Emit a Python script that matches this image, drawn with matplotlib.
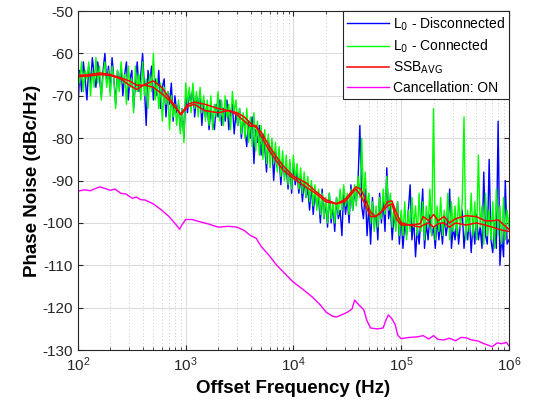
import numpy as np
import matplotlib
matplotlib.use("Agg")
import matplotlib.pyplot as plt

plt.rcParams['font.family'] = ['Liberation Sans', 'DejaVu Sans']
plt.rcParams['axes.unicode_minus'] = False

# noisy traces sampled on a log grid, 60 points per decade (100 Hz .. 1 MHz)
noise_freq = np.logspace(2, 6, 241)

disconnected = [
    # 1e2 .. 1e3
    -73, -64, -69, -62, -66, -71, -63, -67, -61, -65,
    -68, -62, -66, -70, -64, -60, -67, -63, -69, -61,
    -66, -72, -64, -68, -63, -70, -65, -62, -71, -66,
    -64, -73, -67, -62, -69, -65, -60, -68, -77, -64,
    -67, -63, -71, -66, -70, -64, -73, -68, -66, -75,
    -69, -72, -67, -76, -70, -74, -72, -78, -73, -80,
    # 1e3 .. 1e4
    -70, -74, -69, -72, -68, -75, -70, -73, -69, -77,
    -71, -75, -72, -78, -73, -76, -78, -72, -75, -71,
    -77, -73, -76, -71, -78, -74, -72, -79, -74, -77,
    -73, -80, -75, -78, -82, -76, -80, -75, -86, -78,
    -81, -77, -84, -79, -82, -88, -80, -85, -81, -90,
    -83, -87, -84, -91, -85, -89, -87, -92, -86, -93,
    # 1e4 .. 1e5
    -86, -91, -88, -93, -89, -95, -90, -94, -92, -97,
    -91, -98, -93, -96, -94, -100, -92, -99, -95, -101,
    -93, -100, -96, -102, -94, -99, -97, -103, -92, -98,
    -94, -100, -91, -97, -93, -95, -90, -77, -96, -99,
    -92, -103, -96, -105, -94, -101, -97, -104, -93, -100,
    -95, -102, -87, -99, -96, -104, -98, -101, -95, -105,
    # 1e5 .. 1e6
    -98, -106, -100, -103, -97, -91, -104, -99, -108, -101,
    -105, -99, -92, -106, -100, -104, -98, -103, -101, -106,
    -99, -104, -100, -105, -98, -103, -100, -92, -106, -101,
    -104, -99, -105, -100, -97, -106, -101, -104, -99, -107,
    -100, -105, -98, -104, -101, -106, -88, -103, -105, -85,
    -104, -107, -100, -106, -76, -110, -103, -108, -90, -105,
    -104,
]

connected = [
    # 1e2 .. 1e3
    -63, -67, -62, -69, -64, -66, -62, -70, -64, -68,
    -61, -67, -63, -71, -65, -62, -68, -64, -70, -63,
    -66, -73, -64, -69, -62, -67, -65, -72, -63, -68,
    -66, -74, -63, -69, -65, -71, -62, -70, -66, -73,
    -65, -69, -60, -71, -66, -73, -67, -76, -68, -72,
    -69, -78, -70, -75, -72, -77, -71, -79, -73, -81,
    # 1e3 .. 1e4
    -67, -72, -68, -74, -67, -73, -69, -75, -68, -74,
    -70, -76, -71, -77, -70, -78, -72, -75, -69, -76,
    -71, -77, -70, -75, -72, -78, -69, -74, -71, -77,
    -73, -79, -74, -80, -73, -81, -75, -82, -74, -83,
    -76, -84, -77, -85, -78, -86, -79, -87, -80, -86,
    -81, -88, -82, -89, -83, -90, -84, -91, -85, -92,
    # 1e4 .. 1e5
    -84, -90, -86, -92, -87, -93, -88, -94, -89, -95,
    -90, -96, -91, -97, -92, -98, -93, -99, -94, -100,
    -93, -99, -95, -100, -94, -98, -92, -97, -91, -96,
    -93, -98, -92, -97, -91, -96, -89, -94, -80, -95,
    -88, -97, -93, -100, -95, -102, -96, -101, -94, -99,
    -92, -98, -89, -97, -93, -101, -96, -102, -95, -103,
    # 1e5 .. 1e6
    -97, -103, -95, -104, -97, -102, -94, -101, -96, -103,
    -93, -102, -95, -104, -96, -101, -92, -103, -73, -104,
    -96, -102, -94, -103, -97, -101, -93, -104, -95, -102,
    -96, -103, -94, -101, -95, -75, -104, -97, -102, -93,
    -103, -95, -104, -84, -101, -96, -105, -93, -103, -97,
    -104, -95, -106, -92, -103, -96, -105, -94, -104, -97,
    -101,
]

# averaged SSB curves
ssb_freq = [100, 130, 160, 200, 250, 300, 350, 420, 500, 600, 700, 800, 900, 950,
            1050, 1200, 1500, 2000, 2500, 3000, 3500, 4000, 4500, 5000, 6000, 7000,
            8000, 10000, 13000, 16000, 20000, 25000, 30000, 35000, 38000, 42000,
            46000, 52000, 58000, 65000, 75000, 82000, 90000, 100000, 120000, 150000,
            160000, 180000, 200000, 220000, 250000, 280000, 320000, 400000, 500000,
            600000, 700000, 800000, 900000, 1000000]
ssb_a = [-65.2, -65.0, -64.6, -65.0, -65.8, -66.5, -67.5, -67.5, -68.0, -69.5, -71.0,
         -72.8, -74.3, -73.5, -72.0, -71.5, -72.0, -73.0, -73.5, -74.0, -75.0, -76.5,
         -77.5, -78.5, -82.0, -84.5, -86.5, -89.0, -90.5, -92.5, -94.5, -95.5, -94.5,
         -92.5, -91.5, -92.0, -94.0, -97.5, -98.5, -97.5, -95.0, -94.8, -97.5, -100.0,
         -100.5, -100.2, -98.5, -99.5, -98.0, -99.5, -98.5, -100.0, -99.0, -98.3, -98.5,
         -99.5, -99.5, -99.3, -100.5, -101.5]
ssb_b = [-65.5, -65.3, -65.0, -65.2, -66.0, -67.5, -68.5, -67.3, -66.5, -68.0, -70.5,
         -72.5, -74.5, -73.8, -72.5, -72.0, -73.5, -74.0, -73.5, -74.5, -76.0, -77.2,
         -77.0, -79.5, -83.0, -85.5, -87.5, -89.5, -91.5, -93.0, -95.0, -95.5, -95.0,
         -93.0, -92.0, -93.5, -95.5, -98.5, -98.5, -97.5, -96.0, -95.5, -99.0, -100.5,
         -100.5, -101.0, -100.5, -100.0, -101.0, -100.2, -100.0, -101.0, -100.0, -100.5,
         -100.0, -100.5, -101.0, -101.5, -101.8, -102.0]

# cancellation ON
cancel_freq = [100, 115, 130, 145, 160, 180, 200, 220, 250, 280, 320, 350, 380, 420,
               500, 600, 700, 800, 880, 920, 1000, 1150, 1300, 1600, 2000, 2500, 3000,
               3500, 4000, 4500, 5000, 6000, 7000, 8000, 10000, 12000, 15000, 18000,
               20000, 23000, 25000, 28000, 32000, 35000, 37000, 40000, 45000, 48000,
               52000, 60000, 68000, 72000, 76000, 82000, 88000, 93000, 100000, 120000,
               140000, 160000, 180000, 200000, 220000, 250000, 280000, 320000, 360000,
               400000, 450000, 520000, 600000, 700000, 780000, 850000, 950000, 1000000]
cancel_on = [-92.5, -92.2, -92.4, -91.9, -91.5, -91.9, -92.3, -92.0, -93.0, -93.2,
             -94.2, -93.9, -94.5, -94.6, -95.5, -97.0, -98.5, -100.2, -101.5, -100.5,
             -99.2, -99.2, -99.6, -100.2, -101.0, -100.8, -101.0, -101.8, -103.0, -103.6,
             -105.5, -107.8, -110.0, -111.5, -114.0, -115.5, -117.5, -119.5, -121.0,
             -122.0, -122.2, -121.7, -121.0, -120.3, -118.2, -119.2, -120.5, -123.0,
             -124.8, -125.0, -124.8, -123.0, -121.7, -122.6, -124.0, -126.5, -127.3,
             -127.0, -126.9, -126.6, -127.4, -126.6, -127.5, -127.6, -127.2, -127.8,
             -127.0, -127.1, -127.6, -127.9, -128.6, -129.2, -128.3, -128.5, -128.2,
             -129.0]

fig = plt.figure(figsize=(5.34, 4.08), dpi=100)
ax = fig.add_axes([0.146, 0.142, 0.807, 0.831])

ax.semilogx(noise_freq, disconnected, color='#0000ff', linewidth=1.0, label=r'L$_0$ - Disconnected')
ax.semilogx(noise_freq, connected, color='#00ff00', linewidth=1.0, label=r'L$_0$ - Connected')
ax.semilogx(ssb_freq, ssb_a, color='#ff0000', linewidth=1.1, label=r'SSB$_{\mathrm{AVG}}$')
ax.semilogx(ssb_freq, ssb_b, color='#ff0000', linewidth=1.1)
ax.semilogx(cancel_freq, cancel_on, color='#ff00ff', linewidth=1.0, label='Cancellation: ON')

ax.set_xlim(1e2, 1e6)
ax.set_ylim(-130, -50)
ax.set_yticks(np.arange(-130, -49, 10))
ax.grid(True, which='major', color='#dcdcdc', linewidth=0.8)
ax.grid(True, which='minor', axis='x', color='#b8b8b8', linestyle=(0, (1, 3)), linewidth=0.6)
ax.tick_params(which='both', direction='in', top=True, right=True, labelsize=11, colors='#262626')
for s in ax.spines.values():
    s.set_color('#262626')
    s.set_linewidth(0.8)

ax.set_xlabel('Offset Frequency (Hz)', fontsize=13.5, fontweight='bold', labelpad=5)
ax.set_ylabel('Phase Noise (dBc/Hz)', fontsize=13.5, fontweight='bold', labelpad=1)

leg = ax.legend(loc='upper right', fontsize=10, fancybox=False, framealpha=1,
                edgecolor='#262626', borderaxespad=0, handlelength=3.0,
                handletextpad=0.3, labelspacing=0.35, borderpad=0.3)
leg.get_frame().set_linewidth(0.8)

fig.savefig('out.png', dpi=100)
